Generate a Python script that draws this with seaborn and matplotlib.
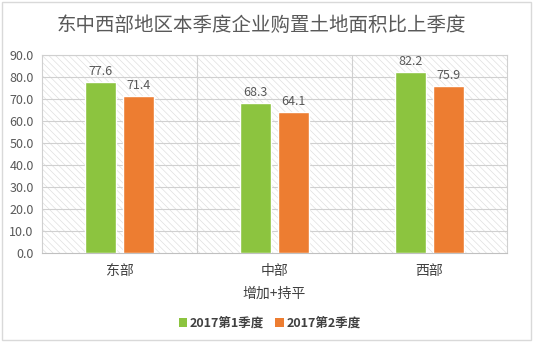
import matplotlib
matplotlib.use("Agg")
import matplotlib.pyplot as plt
import seaborn as sns
import pandas as pd
from matplotlib.patches import Rectangle, Patch

categories = ["东部", "中部", "西部"]
series_names = ["2017第1季度", "2017第2季度"]
q1_values = [77.6, 68.3, 82.2]
q2_values = [71.4, 64.1, 75.9]
y_ticks = [0, 10, 20, 30, 40, 50, 60, 70, 80, 90]
title = "东中西部地区本季度企业购置土地面积比上季度"
xlabel = "增加+持平"
colors = ["#8CC43F", "#ED7D31"]

df = pd.DataFrame({
    "region": categories * 2,
    "series": [series_names[0]] * 3 + [series_names[1]] * 3,
    "value": q1_values + q2_values,
})

sns.set_theme(style="white")
plt.rcParams["font.family"] = ["Noto Sans CJK SC", "DejaVu Sans"]
plt.rcParams["hatch.color"] = "#e0e0e0"
plt.rcParams["hatch.linewidth"] = 0.5

fig = plt.figure(figsize=(5.34, 3.42), dpi=100)
ax = fig.add_axes([42 / 534, 1 - 253 / 342, (507 - 42) / 534, (253 - 55) / 342])

# hatched background of plot area
ax.add_patch(Rectangle((0, 0), 1, 1, transform=ax.transAxes, facecolor="white",
                       edgecolor="#e0e0e0", linewidth=0, hatch="\\\\\\\\\\", zorder=0))

sns.barplot(data=df, x="region", y="value", hue="series", palette=colors,
            width=0.484, gap=0.17, ax=ax, legend=False, zorder=3,
            saturation=1, err_kws={"linewidth": 0})

ax.set_ylim(0, 90)
ax.set_xlim(-0.5, 2.5)
ax.set_yticks(y_ticks)
ax.set_yticklabels([f"{v:.1f}" for v in y_ticks], color="#595959", fontsize=9)
ax.tick_params(axis="y", length=0, pad=6)
ax.tick_params(axis="x", length=0, pad=8)
ax.set_xticks(range(len(categories)))
ax.set_xticklabels(categories, color="#404040", fontsize=10)
ax.set_xlabel(xlabel, color="#404040", fontsize=10, labelpad=6)
ax.set_ylabel("")

for y in y_ticks[1:]:
    ax.axhline(y, color="#d0d0d0", linewidth=0.8, zorder=1)
for x in [0.5, 1.5]:
    ax.axvline(x, color="#d0d0d0", linewidth=0.8, zorder=1)
for s in ["top", "right", "left"]:
    ax.spines[s].set_color("#d0d0d0")
    ax.spines[s].set_linewidth(0.8)
ax.spines["bottom"].set_color("#c0c0c0")
ax.spines["bottom"].set_linewidth(0.8)

for cont in ax.containers:
    ax.bar_label(cont, fmt="%.1f", padding=3, color="#595959", fontsize=9)

fig.text(0.49, 1 - 25 / 342, title, ha="center", va="center", fontsize=14, color="#595959")

handles = [Patch(facecolor=c, edgecolor="none") for c in colors]
fig.legend(handles, series_names, loc="center", bbox_to_anchor=(0.505, 1 - 323 / 342),
           ncol=2, frameon=False, fontsize=9, handlelength=0.7, handleheight=0.7,
           handletextpad=0.2, columnspacing=0.9, labelcolor="#404040",
           prop={"weight": "bold", "size": 9})

fig.patches.append(Rectangle((0.004, 0.006), 0.99, 0.988, transform=fig.transFigure,
                             facecolor="none", edgecolor="#d9d9d9", linewidth=1))

fig.savefig("out.png", dpi=100)
